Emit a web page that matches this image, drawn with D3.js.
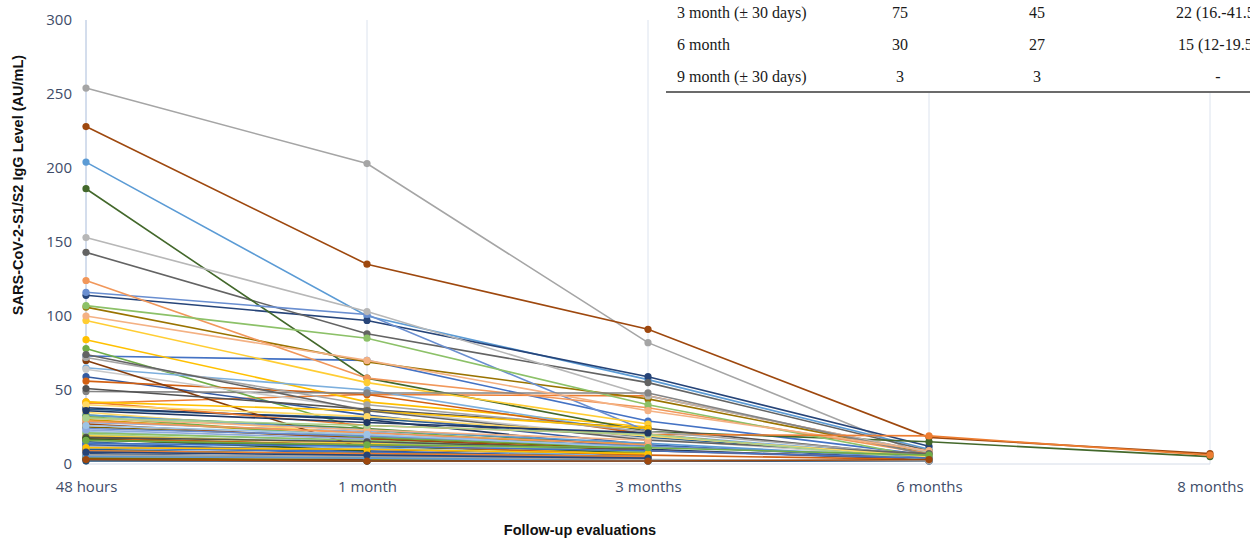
<!DOCTYPE html>
<html>
<head>
<meta charset="utf-8">
<script src="https://cdn.jsdelivr.net/npm/d3@7"></script>
<style>
  body { margin: 0; background: #fff; }
  svg { display: block; }
</style>
</head>
<body>
<div id="chart"></div>
<script>
const categories = ['48 hours', '1 month', '3 months', '6 months', '8 months'];
const yTicks = [0, 50, 100, 150, 200, 250, 300];

// one value per patient at each follow-up (null = not measured)
const h48 = [73, 41, 254, 84, 204, 78, 114, 228, 143, 106, 37, 186, 116, 124, 153, 97, 65, 107, 59, 56,
  49, 30, 12, 33, 28, 100, 64, 35, 22, 20, 38, 70, 51, 25, 15, 18, 11, 42, 72, 42,
  33, 32, 7, 27, 74, 4, 10, 16, 24, 29, 12, 19, 14, 21, 13, 17, 6, 5, 3, 9,
  23, 31, 8, 40, 26, 31, 36, 3, 18, 4, 2, 17, 14, 9, 6, 11, 5, 16, 8, 3];
const m1 = [70, 47, 203, 42, 100, 23, 97, 135, 88, 69, 31, 58, 101, 58, 103, 55, 50, 85, 33, 47,
  48, 19, 8, 24, 22, 70, 37, 20, 15, 14, 30, 10, 37, 18, 6, 12, 8, 26, 40, 36,
  23, 18, 4, 17, 36, 3, 6, 12, 19, 21, 10, 14, 11, 16, 9, 13, 5, 4, 2, 7,
  17, 23, 6, 32, 20, 26, 28, 3, 15, 2, 2, 9, 12, 7, 5, 10, 4, 13, 6, 2];
const m3 = [29, 46, 82, 25, 57, 10, 59, 91, 55, 44, 18, 22, 22, 38, 46, 27, 20, 40, 13, 20,
  48, 14, 5, 12, 9, 36, 17, 8, 7, 9, 10, 6, 24, 10, 3, 8, 4, 20, 22, 24,
  14, 11, 3, 9, 16, 2, 3, 7, 12, 13, null, 6, 5, 8, 4, 6, 3, null, 2, 5,
  null, 16, 4, 19, 11, 20, 21, null, 10, 3, 2, null, 9, 5, 3, 7, 2, 11, 4, 2];
const m6 = [6, 8, 5, null, 10, null, 12, 18, 9, 7, 4, 15, null, 7, 8, null, 5, 4, 3, 3,
  6, null, null, null, 3, 9, 4, null, null, null, 3, null, 5, null, null, null, null, 19, 6, null,
  4, null, null, 4, 7, null, null, null, 5, null, null, null, null, null, null, 3, null, null, 2, null,
  null, null, null, 5, null, 3, null, null, null, null, 2, null, 4, null, 2, null, null, 6, null, 3];
const m8 = [];
m8[7] = 7; m8[11] = 5; m8[37] = 6;

const columns = [h48, m1, m3, m6, m8];

const tableRows = [
  ['3 month (\u00b1 30 days)', '75', '45', '22 (16.-41.5)'],
  ['6 month', '30', '27', '15 (12-19.5)'],
  ['9 month (\u00b1 30 days)', '3', '3', '-']
];

// Excel-style series colours
const palette = ['#4472C4', '#ED7D31', '#A5A5A5', '#FFC000', '#5B9BD5', '#70AD47',
  '#264478', '#9E480E', '#636363', '#997300', '#255E91', '#43682B',
  '#698ED0', '#F1975A', '#B7B7B7', '#FFCD33', '#7CAFDD', '#8CC168',
  '#335AA1', '#D26012', '#848484', '#CC9A00', '#327DC2', '#5A8A39',
  '#8FAADC', '#F4B183', '#C9C9C9', '#FFD966', '#9DC3E6', '#A9D18E',
  '#203864', '#843C0C', '#525252', '#7F6000', '#1F4E79', '#385723'];

const width = 1250;
const height = 540;

const series = h48.map((_, i) => columns.map((col, c) => ({
  c: categories[c],
  v: col[i] == null ? null : col[i]
})));

const x = d3.scalePoint().domain(categories).range([86, 1210]);
const y = d3.scaleLinear().domain([0, 300]).range([464, 20]);

const svg = d3.select('#chart').append('svg')
  .attr('width', width)
  .attr('height', height)
  .attr('viewBox', [0, 0, width, height]);

// vertical gridlines at each category
svg.append('g')
  .selectAll('line')
  .data(categories)
  .join('line')
  .attr('x1', d => x(d))
  .attr('x2', d => x(d))
  .attr('y1', y(300))
  .attr('y2', y(0))
  .attr('stroke', (d, i) => i === 0 ? '#A9BCDA' : '#DCE3EE')
  .attr('stroke-width', 1);

svg.append('line')
  .attr('x1', x(categories[0]))
  .attr('x2', x(categories[categories.length - 1]))
  .attr('y1', y(0))
  .attr('y2', y(0))
  .attr('stroke', '#D5DCE8');

// axis labels
const yAxis = svg.append('g')
  .attr('transform', 'translate(72,0)')
  .call(d3.axisLeft(y).tickValues(yTicks).tickSize(0).tickPadding(0));
yAxis.select('.domain').remove();

const xAxis = svg.append('g')
  .attr('transform', 'translate(0,481)')
  .call(d3.axisBottom(x).tickSize(0).tickPadding(0));
xAxis.select('.domain').remove();

svg.selectAll('.tick text')
  .attr('font-family', '"Open Sans", sans-serif')
  .attr('font-size', 15)
  .attr('fill', '#3E4C68');

const line = d3.line()
  .defined(p => p.v != null)
  .x(p => x(p.c))
  .y(p => y(p.v));

const g = svg.append('g')
  .selectAll('g')
  .data(series)
  .join('g')
  .attr('color', (d, i) => palette[i % palette.length]);

g.append('path')
  .attr('fill', 'none')
  .attr('stroke', 'currentColor')
  .attr('stroke-width', 1.6)
  .attr('d', line);

g.selectAll('circle')
  .data(d => d.filter(p => p.v != null))
  .join('circle')
  .attr('cx', p => x(p.c))
  .attr('cy', p => y(p.v))
  .attr('r', 3.6)
  .attr('fill', 'currentColor');

// axis titles
svg.append('text')
  .attr('transform', 'translate(23,185) rotate(-90)')
  .attr('text-anchor', 'middle')
  .attr('font-family', '"Liberation Sans", Arial, sans-serif')
  .attr('font-weight', 'bold')
  .attr('font-size', 14.5)
  .attr('fill', '#111')
  .text('SARS-CoV-2-S1/S2 IgG Level (AU/mL)');

svg.append('text')
  .attr('x', 580)
  .attr('y', 535)
  .attr('text-anchor', 'middle')
  .attr('font-family', '"Liberation Sans", Arial, sans-serif')
  .attr('font-weight', 'bold')
  .attr('font-size', 14.5)
  .attr('fill', '#111')
  .text('Follow-up evaluations');

// pasted table fragment at the top right
const table = svg.append('g');
table.append('rect')
  .attr('x', 666)
  .attr('y', 0)
  .attr('width', width - 666)
  .attr('height', 93)
  .attr('fill', '#fff');
table.append('line')
  .attr('x1', 666)
  .attr('x2', width)
  .attr('y1', 92)
  .attr('y2', 92)
  .attr('stroke', '#6b6b6b')
  .attr('stroke-width', 2);

const colX = [677, 900, 1037, 1218];
const colAnchor = ['start', 'middle', 'middle', 'middle'];
tableRows.forEach((row, r) => {
  row.forEach((cell, c) => {
    table.append('text')
      .attr('x', colX[c])
      .attr('y', 18 + r * 32)
      .attr('text-anchor', colAnchor[c])
      .attr('font-family', '"Liberation Serif", "Times New Roman", serif')
      .attr('font-size', 16)
      .attr('fill', '#1a1a1a')
      .text(cell);
  });
});
</script>
</body>
</html>
